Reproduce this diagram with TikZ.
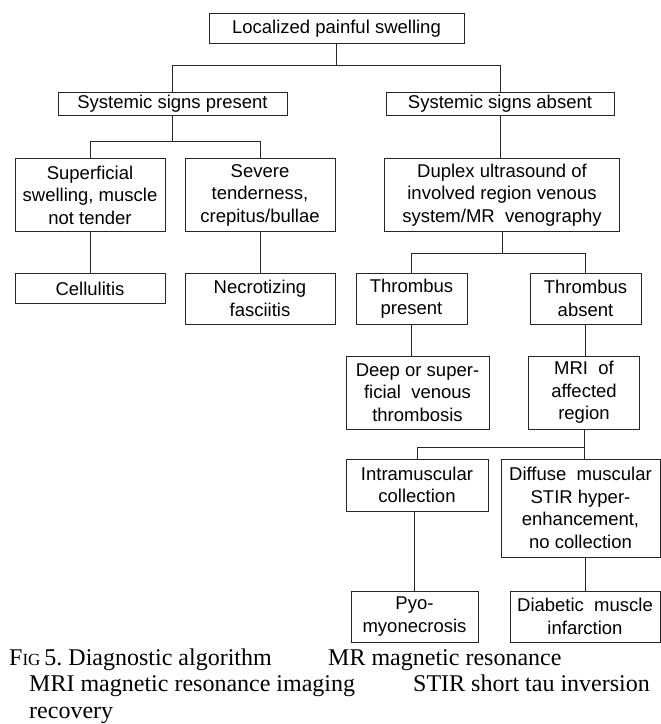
\documentclass[tikz,border=0pt]{standalone}
\usepackage{fontspec}
\setmainfont{Liberation Serif}
\newfontfamily\boxfont{Liberation Sans}
\usepackage{tikz}
\usetikzlibrary{positioning}
\tikzstyle{line} = [line width=0.9pt, black!85]

\begin{document}
\begin{tikzpicture}[x=1pt, y=-1pt]
	% Define styles for the boxes and the caption
	\tikzstyle{box} = [rectangle, draw=black!85, line width=0.9pt, align=center, inner sep=0pt, font=\boxfont\fontsize{18.5}{22.5}\selectfont]
	\tikzstyle{caption} = [inner sep=0pt, anchor=base west, font=\fontsize{24}{27}\selectfont]
	\useasboundingbox (0,0) rectangle (661,724);

	% Root
	\node[box, minimum width=255, minimum height=30.5] (root) at (336.5, 28.5) {Localized painful swelling};

	% Systemic signs
	\node[box, minimum width=229, minimum height=22.5] (present) at (172.5, 104) {Systemic signs present};
	\node[box, minimum width=228, minimum height=22.5] (absent) at (500, 104) {Systemic signs absent};

	% Left branch
	\node[box, minimum width=150, minimum height=73] (superf) at (90, 195) {Superficial\\swelling, muscle\\not tender};
	\node[box, minimum width=150, minimum height=73] (severe) at (260, 195) {Severe\\tenderness,\\crepitus/bullae};
	\node[box, minimum width=150, minimum height=30.5] (cellul) at (90, 288.5) {Cellulitis};
	\node[box, minimum width=150, minimum height=51] (necrot) at (260, 298.5) {Necrotizing\\fasciitis};

	% Right branch
	\node[box, minimum width=235.5, minimum height=73] (duplex) at (502, 195) {Duplex ultrasound of\\involved region venous\\system/MR\ \ venography};
	\node[box, minimum width=111, minimum height=51] (tpres) at (411.5, 298.5) {Thrombus\\present};
	\node[box, minimum width=111, minimum height=51] (tabs) at (585.5, 298.5) {Thrombus\\absent};
	\node[box, minimum width=143, minimum height=73] (deep) at (417.5, 392.5) {Deep or super-\\ficial\ \ venous\\thrombosis};
	\node[box, minimum width=111, minimum height=73] (mri) at (584, 392.5) {MRI\ \ of\\affected\\region};
	\node[box, minimum width=142, minimum height=52] (intra) at (417, 485) {Intramuscular\\collection};
	\node[box, minimum width=159, minimum height=98] (diffuse) at (580.5, 508) {Diffuse\ \ muscular\\STIR hyper-\\enhancement,\\no collection};
	\node[box, minimum width=127, minimum height=51] (pyo) at (414.5, 616.5) {Pyo-\\myonecrosis};
	\node[box, minimum width=150, minimum height=51] (diabetic) at (585, 616.5) {Diabetic\ \ muscle\\infarction};

	% Connectors
	\draw[line] (root.south) -- ++(0,21.5) -| (present.north);
	\draw[line] (root.south) -- ++(0,21.5) -| (absent.north);
	\draw[line] (present.south) -- ++(0,25.5) -| (superf.north);
	\draw[line] (present.south) -- ++(0,25.5) -| (severe.north);
	\draw[line] (absent.south) -- (absent.south |- duplex.north);
	\draw[line] (superf.south) -- (cellul.north);
	\draw[line] (severe.south) -- (necrot.north);
	\draw[line] (duplex.south) -- ++(0,21.5) -| (tpres.north);
	\draw[line] (duplex.south) -- ++(0,21.5) -| (tabs.north);
	\draw[line] (tpres.south) -- (tpres.south |- deep.north);
	\draw[line] (tabs.south) -- (tabs.south |- mri.north);
	\draw[line] (mri.south) -- ++(0,17.5) -| (intra.north);
	\draw[line] (mri.south) -- (mri.south |- diffuse.north);
	\draw[line] (pyo.north) -- (pyo.north |- intra.south);
	\draw[line] (diabetic.north) -- (diabetic.north |- diffuse.south);

	% Caption
	\node[caption] (cap1) at (9, 665) {F{\fontsize{17}{17}\selectfont IG}\,5.\hspace{6pt}Diagnostic algorithm};
	\node[caption] (cap2) at (328, 665) {MR magnetic resonance};
	\node[caption] (cap3) at (29, 691.5) {MRI magnetic resonance imaging};
	\node[caption] (cap4) at (413, 691.5) {STIR short tau inversion};
	\node[caption] (cap5) at (29, 718) {recovery};
\end{tikzpicture}
\end{document}
